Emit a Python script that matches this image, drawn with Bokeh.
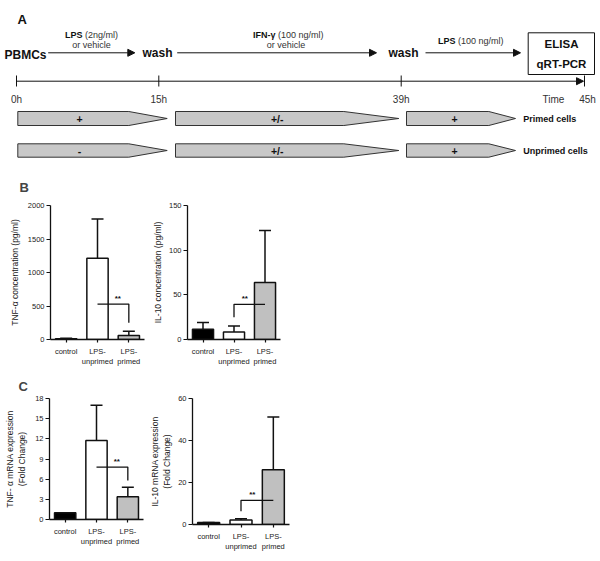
from bokeh.plotting import figure
from bokeh.layouts import column, row
from bokeh.models import (Range1d, ColumnDataSource, Whisker, TeeHead, Arrow,
                          NormalHead, FixedTicker)
from bokeh.core.properties import value
from bokeh.embed import file_html
from bokeh.resources import INLINE

FONT = "Liberation Sans"

# ---------------- Panel A : protocol schematic ----------------
timeline_labels = ["0h", "15h", "39h", "45h"]
start_label = "PBMCs"
wash_labels = ["wash", "wash"]
treat_bold = ["LPS", "IFN-\u03b3", "LPS"]
treat_rest = ["(2ng/ml)", "(100 ng/ml)", "(100 ng/ml)"]
treat_sub = ["or vehicle", "or vehicle", ""]
readouts = ["ELISA", "qRT-PCR"]
primed_signs = ["+", "+/-", "+"]
unprimed_signs = ["-", "+/-", "+"]
row_labels = ["Primed cells", "Unprimed cells"]

# schematic (not-to-scale) layout in reference pixel space
SX_TIME = [16, 158.3, 400.7, 584]
SX_ARROWS = [(47.7, 134.3), (176.7, 376), (425, 520)]
SX_WASH = [157, 403]
SX_TREAT_SPLIT = [82, 275, 455]
SX_TREAT_SUB = [91, 285.5, 0]
SY_TREAT = [34, 34, 40.7]
SX_PENTA = [(17.3, 128.3, 166.7), (175, 343.3, 398.3), (406, 488.3, 515)]
SX_SIGN = [79, 276.7, 454]
SY_ROWS = [(111, 125), (143.3, 156.7)]

# ---------------- Panels B / C : bar charts ----------------
groups = ["control", "LPS-\nunprimed", "LPS-\nprimed"]
bar_colors = ["#000000", "#ffffff", "#c0c0c0"]

tnf_conc_mean = [10, 1213, 60]
tnf_conc_upper = [20, 1800, 125]
il10_conc_mean = [11.5, 8.5, 63.7]
il10_conc_upper = [19, 15.2, 122]
tnf_mrna_mean = [1.0, 11.75, 3.4]
tnf_mrna_upper = [1.0, 17.0, 4.8]
il10_mrna_mean = [1.0, 2.1, 26.1]
il10_mrna_upper = [1.0, 2.7, 51.2]

# significance brackets: (bracket level, tip level, tip side)
tnf_conc_sig = (528, 250, "right")
il10_conc_sig = (39.4, 25, "left")
tnf_mrna_sig = (7.8, 5.8, "right")
il10_mrna_sig = (11.5, 6.3, "left")


# ---------------- Panel A figure ----------------
pA = figure(width=600, height=165, x_range=Range1d(0, 600), y_range=Range1d(165, 0),
            output_backend="svg", toolbar_location=None, min_border=0,
            x_axis_location=None, y_axis_location=None)
pA.grid.visible = False
pA.outline_line_color = None

def txt(p, x, y, t, size, bold=False, align="center", color="#111111"):
    p.text(x=[x], y=[y], text=[t], text_font=value(FONT), text_font_size=size,
           text_font_style="bold" if bold else "normal", text_align=align,
           text_baseline="middle", text_color=color)

txt(pA, 17, 19, "A", "13px", bold=True, align="left")
txt(pA, 4, 54, start_label, "12px", bold=True, align="left")
for x, w in zip(SX_WASH, wash_labels):
    txt(pA, x, 52.5, w, "12px", bold=True)
for (x0, x1) in SX_ARROWS:
    pA.add_layout(Arrow(x_start=x0, y_start=52.3, x_end=x1, y_end=52.3, line_width=1,
                        line_color="#111111",
                        end=NormalHead(size=7, fill_color="#111111", line_color="#111111")))
for xs, xsub, yb, b, r, s in zip(SX_TREAT_SPLIT, SX_TREAT_SUB, SY_TREAT,
                                 treat_bold, treat_rest, treat_sub):
    txt(pA, xs, yb, b, "9px", bold=True, align="right")
    txt(pA, xs + 2.5, yb, r, "9px", align="left", color="#333333")
    if s:
        txt(pA, xsub, 44.3, s, "9px", color="#333333")

# readout box
pA.quad(left=[527.7], right=[594], top=[32.3], bottom=[74], fill_color="white",
        line_color="#111111", line_width=1)
txt(pA, 561, 43.3, readouts[0], "11.5px", bold=True)
txt(pA, 561, 63.3, readouts[1], "11.5px", bold=True)

# timeline
pA.add_layout(Arrow(x_start=SX_TIME[0], y_start=80.7, x_end=SX_TIME[-1] - 1, y_end=80.7,
                    line_width=1, line_color="#111111",
                    end=NormalHead(size=7, fill_color="#111111", line_color="#111111")))
pA.segment(x0=SX_TIME, y0=[75] * 4, x1=SX_TIME, y1=[86] * 4, line_color="#111111", line_width=1)
for x, t in zip(SX_TIME, timeline_labels):
    txt(pA, x + (3 if t == "45h" else 0), 98.7, t, "10px", color="#333333")
txt(pA, 553, 98.7, "Time", "10px", color="#333333")

# treatment pentagons
for (y0, y1), signs, lab in zip(SY_ROWS, [primed_signs, unprimed_signs], row_labels):
    xs_list, ys_list = [], []
    ym = (y0 + y1) / 2
    for (a, b, c) in SX_PENTA:
        xs_list.append([a, b, c, b, a])
        ys_list.append([y0, y0, ym, y1, y1])
    pA.patches(xs=xs_list, ys=ys_list, fill_color="#c8c8c8", line_color="#333333", line_width=1)
    for x, s in zip(SX_SIGN, signs):
        txt(pA, x, ym, s, "10.5px", bold=True)
    txt(pA, 522.7, ym, lab, "9px", bold=True, align="left")


# ---------------- bar chart factory ----------------
def bar_chart(means, upper, ymax, ticks, ylabel, sig, frame_w, frame_h,
              b_left, b_right, b_top, b_bottom, letter=None, letter_standoff=10,
              label_standoff=5):
    n = len(groups)
    xs = [i + 0.5 for i in range(n)]
    p = figure(frame_width=frame_w, frame_height=frame_h,
               x_range=Range1d(0, n), y_range=Range1d(0, ymax),
               output_backend="svg", toolbar_location=None,
               min_border_left=b_left, min_border_right=b_right,
               min_border_top=b_top, min_border_bottom=b_bottom)
    p.grid.visible = False
    p.outline_line_color = None
    src = ColumnDataSource(dict(x=xs, top=means, upper=upper, color=bar_colors))
    p.vbar(x="x", top="top", width=0.68, fill_color="color", line_color="#111111",
           line_width=1.5, source=src)
    p.add_layout(Whisker(source=src, base="x", lower="top", upper="upper",
                         dimension="height", line_width=1.5, line_color="#111111",
                         lower_head=None,
                         upper_head=TeeHead(size=12, line_width=1.5, line_color="#111111")))
    # significance bracket between LPS-unprimed and LPS-primed
    level, tip, side = sig
    xa, xb = xs[1], xs[2]
    if side == "right":
        bx, by = [xa, xb, xb], [level, level, tip]
        sx = (xa + xb) / 2 + 0.15
    else:
        bx, by = [xa, xa, xb], [tip, level, level]
        sx = (xa + xb) / 2 - 0.15
    p.line(x=bx, y=by, line_color="#111111", line_width=1.3)
    p.text(x=[sx], y=[level], text=["**"], text_font=value(FONT), text_font_size="8px",
           text_font_style="bold", text_align="center", text_baseline="bottom",
           y_offset=-1, text_color="#111111")

    for ax in (p.xaxis[0], p.yaxis[0]):
        ax.axis_line_width = 1.3
        ax.axis_line_color = "#111111"
        ax.major_tick_line_color = "#111111"
        ax.major_tick_line_width = 1.2
        ax.minor_tick_line_color = None
        ax.major_tick_in = 0
        ax.major_label_text_font = FONT
        ax.major_label_text_color = "#222222"
    p.yaxis.ticker = FixedTicker(ticks=ticks)
    p.yaxis.major_tick_out = 4
    p.yaxis.major_label_standoff = 2
    p.yaxis.major_label_text_font_size = "7.5px"
    p.yaxis.axis_label = ylabel
    p.yaxis.axis_label_text_font = FONT
    p.yaxis.axis_label_text_font_size = "8.5px"
    p.yaxis.axis_label_text_font_style = "normal"
    p.yaxis.axis_label_text_color = "#222222"
    p.yaxis.axis_label_standoff = label_standoff
    p.xaxis.ticker = FixedTicker(ticks=xs)
    p.xaxis.major_label_overrides = {x: g for x, g in zip(xs, groups)}
    p.xaxis.major_tick_out = 3
    p.xaxis.major_label_standoff = 4
    p.xaxis.major_label_text_font_size = "7.5px"
    if letter:
        p.title.text = letter
        p.title.text_font = FONT
        p.title.text_font_size = "13px"
        p.title.text_font_style = "bold"
        p.title.align = "left"
        p.title.offset = -31
        p.title.standoff = letter_standoff
    return p


pB1 = bar_chart(tnf_conc_mean, tnf_conc_upper, 2000, [0, 500, 1000, 1500, 2000],
                "TNF-\u03b1 concentration (pg/ml)", tnf_conc_sig, 94, 134,
                50, 3, 40, 33, letter="B", letter_standoff=22, label_standoff=5)
pB2 = bar_chart(il10_conc_mean, il10_conc_upper, 150, [0, 50, 100, 150],
                "IL-10 concentration (pg/ml)", il10_conc_sig, 93, 134,
                40, 320, 40, 33, label_standoff=3)
pC1 = bar_chart(tnf_mrna_mean, tnf_mrna_upper, 18, [0, 3, 6, 9, 12, 15, 18],
                "TNF- \u03b1 mRNA expression\n(Fold Change)", tnf_mrna_sig, 94, 121,
                49, 4, 26, 42, letter="C", letter_standoff=9, label_standoff=5)
pC2 = bar_chart(il10_mrna_mean, il10_mrna_upper, 60, [0, 20, 40, 60],
                "IL-10 mRNA expression\n(Fold Change)", il10_mrna_sig, 97, 126,
                39, 317, 20, 43, label_standoff=3)

layout = column(pA, row(pB1, pB2), row(pC1, pC2))
open("out.html", "w").write(file_html(layout, INLINE))
